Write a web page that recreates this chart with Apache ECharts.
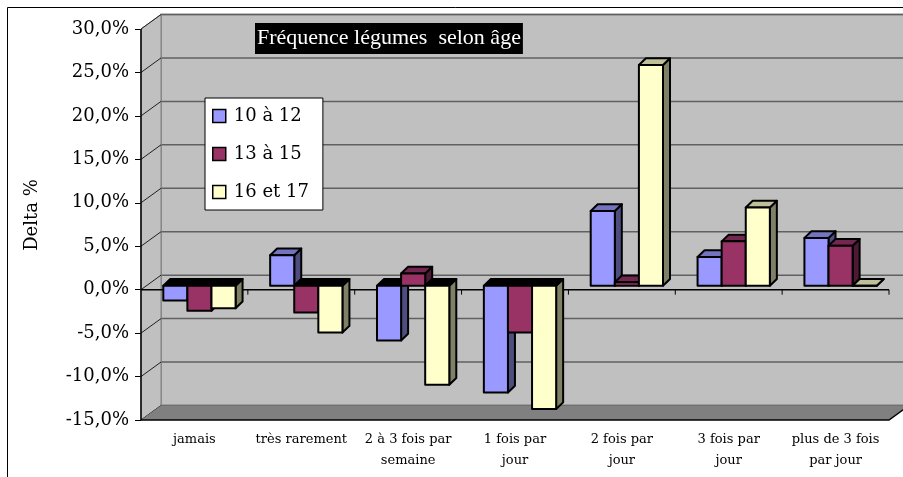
<!DOCTYPE html>
<html>
<head>
<meta charset="utf-8">
<script src="https://cdn.jsdelivr.net/npm/echarts@6/dist/echarts.min.js"></script>
<style>
  html, body { margin: 0; padding: 0; background: #ffffff; }
  #chart { width: 903px; height: 477px; }
</style>
</head>
<body>
<div id="chart"></div>
<script>
// Categories (frequency of vegetable consumption)
const categories = [
  'jamais',
  'très rarement',
  '2 à 3 fois par\nsemaine',
  '1 fois par\njour',
  '2 fois par\njour',
  '3 fois par\njour',
  'plus de 3 fois\npar jour'
];

// Age groups
const seriesNames = ['10 à 12', '13 à 15', '16 et 17'];

// Delta in percent for each age group
const age10to12 = [-1.7, 3.5, -6.3, -12.3, 8.6, 3.3, 5.5];
const age13to15 = [-2.9, -3.1, 1.4, -5.4, 0.4, 5.1, 4.6];
const age16to17 = [-2.6, -5.4, -11.4, -14.2, 25.4, 9.0, 0.0];

// Value axis ticks
const yTicks = [-15, -10, -5, 0, 5, 10, 15, 20, 25, 30];

// Face colours: front, side, top
const palettes = [
  { front: '#9999ff', side: '#4d4d80', top: '#7373bf' },
  { front: '#993366', side: '#4d1a33', top: '#732650' },
  { front: '#ffffcc', side: '#808066', top: '#bfbf99' }
];

// Pseudo-3D geometry (pixels)
const WALL_DX = 20, WALL_DY = -14.5;   // depth of the box (back wall offset)
const FACE_DX = 5, FACE_DY = -4;       // bars' front face offset from the front plane
const BAR_DX = 7, BAR_DY = -6.7;       // bar depth
const BAR_FRAC = 0.2255;               // bar width as fraction of a category

const fmtPct = v => v.toFixed(1).replace('.', ',') + '%';

function renderWalls(params, api) {
  const cs = params.coordSys;
  const L = cs.x, T = cs.y, R = cs.x + cs.width, B = cs.y + cs.height;
  const kids = [];
  // back wall
  kids.push({
    type: 'rect',
    shape: { x: L + WALL_DX, y: T + WALL_DY, width: cs.width, height: cs.height },
    style: { fill: '#c0c0c0', stroke: '#808080', lineWidth: 1.5 }
  });
  // back wall gridlines
  yTicks.forEach(v => {
    const y = api.coord([0, v])[1] + WALL_DY;
    kids.push({
      type: 'line',
      shape: { x1: L + WALL_DX, y1: y, x2: R + WALL_DX + 40, y2: y },
      style: { stroke: '#606060', lineWidth: 1.5 }
    });
  });
  // left side wall
  kids.push({
    type: 'polygon',
    shape: { points: [[L, T], [L + WALL_DX, T + WALL_DY], [L + WALL_DX, B + WALL_DY], [L, B]] },
    style: { fill: '#c0c0c0', stroke: '#808080', lineWidth: 1 }
  });
  yTicks.forEach(v => {
    const y = api.coord([0, v])[1];
    kids.push({
      type: 'line',
      shape: { x1: L, y1: y, x2: L + WALL_DX, y2: y + WALL_DY },
      style: { stroke: '#202020', lineWidth: 1 }
    });
  });
  // floor
  kids.push({
    type: 'polygon',
    shape: { points: [[L, B], [L + WALL_DX, B + WALL_DY], [R + WALL_DX, B + WALL_DY], [R, B]] },
    style: { fill: '#808080', stroke: null }
  });
  kids.push({
    type: 'polyline',
    shape: { points: [[L, B], [R, B], [R + WALL_DX, B + WALL_DY]] },
    style: { stroke: '#000', lineWidth: 1.5, fill: null }
  });
  // front vertical axis line
  kids.push({
    type: 'line',
    shape: { x1: L, y1: T, x2: L, y2: B },
    style: { stroke: '#000', lineWidth: 1.5 }
  });
  // category axis crossing at zero, with boundary ticks
  const y0 = api.coord([0, 0])[1];
  kids.push({
    type: 'line',
    shape: { x1: L, y1: y0, x2: R, y2: y0 },
    style: { stroke: '#000', lineWidth: 1.5 }
  });
  const catW = api.size([1, 0])[0];
  for (let k = 1; k <= categories.length; k++) {
    const x = L + k * catW;
    kids.push({
      type: 'line',
      shape: { x1: x, y1: y0, x2: x, y2: y0 + 5 },
      style: { stroke: '#000', lineWidth: 1 }
    });
  }
  return { type: 'group', children: kids };
}

function makeBarRenderer(sIdx) {
  const pal = palettes[sIdx];
  return function (params, api) {
    const i = api.value(0), v = api.value(1);
    const catW = api.size([1, 0])[0];
    const bw = catW * BAR_FRAC;
    const c = api.coord([i, 0]);
    const p = api.coord([i, v]);
    const x0 = c[0] - 1.5 * bw + sIdx * bw + FACE_DX;
    const x1 = x0 + bw;
    const yZero = c[1] + FACE_DY;
    const yVal = p[1] + FACE_DY;
    const yTop = Math.min(yZero, yVal), yBot = Math.max(yZero, yVal);
    const edge = { stroke: '#000', lineWidth: 2, lineJoin: 'round' };
    return {
      type: 'group',
      children: [
        {
          type: 'polygon',
          shape: { points: [[x1, yTop], [x1 + BAR_DX, yTop + BAR_DY], [x1 + BAR_DX, yBot + BAR_DY], [x1, yBot]] },
          style: Object.assign({ fill: pal.side }, edge)
        },
        {
          type: 'polygon',
          shape: { points: [[x0, yTop], [x0 + BAR_DX, yTop + BAR_DY], [x1 + BAR_DX, yTop + BAR_DY], [x1, yTop]] },
          style: Object.assign({ fill: v >= 0 ? pal.top : '#000' }, edge)
        },
        {
          type: 'rect',
          shape: { x: x0, y: yTop, width: bw, height: yBot - yTop },
          style: Object.assign({ fill: pal.front }, edge)
        }
      ]
    };
  };
}

const seriesValues = [age10to12, age13to15, age16to17];

const chart = echarts.init(document.getElementById('chart'), null, { renderer: 'canvas' });

chart.setOption({
  animation: false,
  backgroundColor: '#ffffff',
  title: {
    text: 'Fréquence légumes  selon âge',
    left: 255,
    top: 23,
    padding: [4, 2, 4, 2],
    backgroundColor: '#000000',
    textStyle: {
      color: '#ffffff',
      fontFamily: 'Liberation Serif',
      fontSize: 22,
      fontWeight: 'normal',
      lineHeight: 23
    }
  },
  legend: {
    data: seriesNames,
    orient: 'vertical',
    left: 205,
    top: 98,
    padding: [8, 14, 8, 7],
    itemGap: 18,
    itemWidth: 13,
    itemHeight: 13,
    icon: 'rect',
    backgroundColor: '#ffffff',
    borderColor: '#000000',
    borderWidth: 1,
    borderRadius: 0,
    itemStyle: { borderColor: '#000', borderWidth: 1.5 },
    textStyle: {
      fontFamily: 'DejaVu Serif',
      fontSize: 18,
      color: '#000',
      lineHeight: 20,
      padding: [0, 0, 0, 3]
    },
    selectedMode: false
  },
  grid: { left: 141, right: 14, top: 29, bottom: 57, containLabel: false },
  xAxis: {
    type: 'category',
    data: categories,
    boundaryGap: true,
    axisLine: { show: false },
    axisTick: { show: true, length: 6, alignWithLabel: false, lineStyle: { color: '#000', width: 1 } },
    axisLabel: {
      interval: 0,
      margin: 9,
      fontFamily: 'DejaVu Serif',
      fontSize: 13,
      lineHeight: 21,
      color: '#000'
    },
    splitLine: { show: false }
  },
  yAxis: {
    type: 'value',
    min: yTicks[0],
    max: yTicks[yTicks.length - 1],
    interval: 5,
    axisLine: { show: false },
    axisTick: { show: true, length: 6, lineStyle: { color: '#000', width: 1 } },
    axisLabel: {
      margin: 12,
      fontFamily: 'DejaVu Serif',
      fontSize: 18,
      color: '#000',
      formatter: fmtPct
    },
    splitLine: { show: false }
  },
  graphic: [
    {
      type: 'rect',
      shape: { x: 7.5, y: 7.5, width: 920, height: 490 },
      style: { fill: null, stroke: '#000', lineWidth: 1 },
      silent: true
    },
    {
      type: 'text',
      x: 32,
      y: 215,
      rotation: Math.PI / 2,
      style: {
        text: 'Delta %',
        fontFamily: 'DejaVu Serif',
        fontSize: 18,
        fill: '#000',
        align: 'center',
        verticalAlign: 'middle'
      }
    }
  ],
  series: [
    {
      name: 'walls',
      type: 'custom',
      renderItem: renderWalls,
      data: [[0, 0]],
      silent: true,
      z: 1
    }
  ].concat(seriesNames.map((name, s) => ({
    name: name,
    type: 'custom',
    renderItem: makeBarRenderer(s),
    itemStyle: { color: palettes[s].front },
    data: seriesValues[s].map((v, i) => [i, v]),
    encode: { x: 0, y: 1 },
    z: 2 + s
  })))
});
</script>
</body>
</html>
